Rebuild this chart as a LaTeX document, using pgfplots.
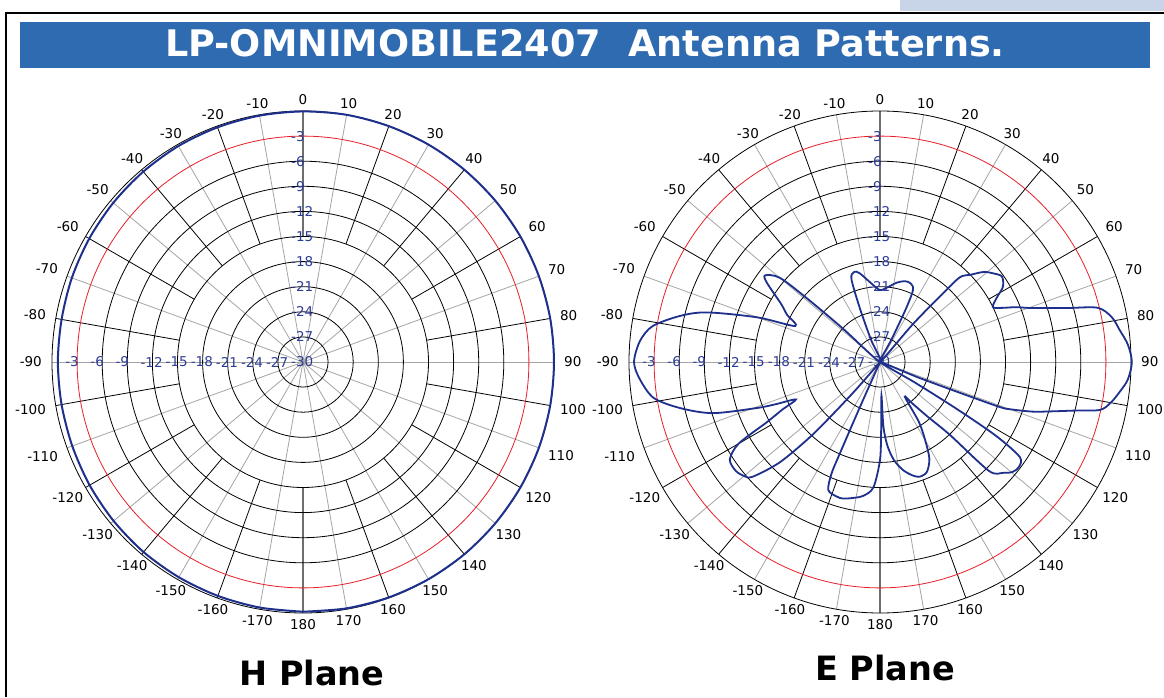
\documentclass[border=0pt]{standalone}
\usepackage{pgfplots}
\pgfplotsset{compat=1.18}
\usepackage{pgfplotstable}
\usepackage{fontspec}
\setmainfont{DejaVu Sans}
\definecolor{navy}{RGB}{30,48,140}
\definecolor{lblue}{RGB}{45,60,150}
\definecolor{titlebar}{RGB}{47,107,177}
\definecolor{spoke}{RGB}{165,165,165}
\definecolor{axisgray}{RGB}{110,110,110}
\definecolor{gridred}{RGB}{232,30,40}
\definecolor{topbox}{RGB}{200,212,232}

\pgfplotstableread{
ang db
-180 -0.15
-170 -0.2
-160 -0.25
-150 -0.3
-140 -0.35
-130 -0.45
-120 -0.55
-110 -0.65
-100 -0.7
-90 -0.7
-80 -0.7
-70 -0.6
-60 -0.5
-50 -0.4
-40 -0.3
-30 -0.2
-20 -0.15
-10 -0.1
0 -0.05
10 0
20 0
30 0
40 0
50 0
60 0
70 0
80 0
90 0
100 0
110 0
120 0
130 0
140 0
150 -0.02
160 -0.05
170 -0.1
180 -0.15
}\hplane

\pgfplotstableread{
ang db
-150 -30
-139 -26
-138 -22
-137 -17.7
-135 -13
-132 -9.5
-130 -8.8
-127 -8.4
-123 -8.6
-120 -10.5
-118 -14.7
-116 -17
-114 -19
-112 -16.5
-110.5 -14.3
-107 -9.1
-103 -5.5
-99 -2.6
-94 -1.2
-90 -0.6
-85 -1.2
-81 -2.5
-77 -5.5
-74 -8.5
-70 -14.4
-67 -19
-63 -17.5
-59.6 -16.3
-55 -13.5
-53 -12.8
-50 -14.3
-49 -18
-48 -24
-35 -30
-22 -27
-20.5 -23
-19 -19.5
-16 -18.8
-13 -19.1
-6 -20.6
0 -21.4
6 -21
12 -20.3
17 -19.9
21 -19.9
24.6 -20.5
26 -23
27 -27
34 -30
41 -24
42.5 -19
43.3 -16.1
46 -15
49 -13.6
52 -12.8
55 -12.2
58.6 -12.8
61 -14
64 -15
66 -14.1
68 -12.5
70 -11.1
72 -9.1
74 -6.6
76 -3.2
79 -1.8
82.4 -1.1
86 -0.3
90 0.1
94 -0.3
97 -1.1
100 -2
102.3 -3.1
104 -6
106 -8.6
108 -10.8
110 -13.5
110.6 -14.7
111 -19
112 -25
116 -30
120.5 -25
121.5 -19
122.5 -13.5
124.2 -9.8
127 -9.2
129.6 -9.4
132 -10.2
135 -11.6
136.2 -17.9
139 -21.4
142 -23.7
144.5 -24.9
147 -21.5
150 -19.2
153 -17
157 -15.7
161 -15.5
164 -15.9
168 -16.8
172 -18.2
175 -20
177 -22.3
177.5 -26
179 -22
180 -18.3
183 -15
187 -13.9
190.5 -13.5
195 -13.1
197.7 -13.1
202 -13.5
203.5 -15.5
203.7 -18
204 -24
210 -30
}\eplane

\newcommand{\polargrid}[2]{%
\begin{scope}[shift={(#1,#2)}]
  \foreach \b in {10,30,...,350} {\draw[spoke, line width=0.8pt] (0,0) -- ({90-\b}:251pt);}
  \foreach \b in {20,40,60,80,100,120,140,160,200,220,240,260,280,300,320,340} {\draw[black, line width=0.8pt] ({90-\b}:125.5pt) -- ({90-\b}:251pt);}
  \draw[axisgray, line width=1.4pt] (90:125.5pt) -- (90:251pt);
  \draw[axisgray, line width=1.4pt] (-90:125.5pt) -- (-90:251pt);
  \foreach \k in {1,...,8} {\draw[black, line width=0.8pt] (0,0) circle[radius=\k*25.1pt];}
  \draw[gridred, line width=0.8pt] (0,0) circle[radius=225.9pt];
  \draw[black, line width=0.8pt] (0,0) circle[radius=251pt];
  \foreach \b in {-170,-160,...,180} {
    \pgfmathsetmacro\ph{90-\b}
    \pgfmathsetmacro\dd{251+5+4*cos(\ph)*cos(\ph)}
    \pgfmathtruncatemacro\anc{mod(270-\b+720,360)}
    \node[font=\fontsize{13.5}{16}\selectfont, inner sep=1pt, anchor=\anc] at (\ph:\dd pt) {\b};
  }
  \foreach \k in {1,...,9} {
    \pgfmathtruncatemacro\v{-30+3*\k}
    \node[lblue, font=\fontsize{13.5}{15}\selectfont, inner sep=0pt, anchor=west] at (-12pt, \k*25.1pt) {\v};
    \node[lblue, font=\fontsize{13.5}{15}\selectfont, inner sep=0pt, anchor=west] at (-\k*25.1pt-12pt, 0pt) {\v};
  }
  \node[lblue, font=\fontsize{13.5}{15}\selectfont, inner sep=0pt, anchor=west] at (-12pt, 0pt) {-30};
\end{scope}}

\begin{document}
\begin{tikzpicture}[x=1pt,y=1pt]
\useasboundingbox (0,0) rectangle (1164,697);
\fill[white] (0,0) rectangle (1164,697);
\fill[topbox] (900,686) rectangle (1164,697);
\draw[black, line width=2pt] (6,0) -- (6,684) -- (1164,684);
\fill[titlebar] (20,629) rectangle (1150,675);
\node[white, font=\bfseries\fontsize{36.6}{40}\selectfont, anchor=base, inner sep=0pt] at (585,640) {LP-OMNIMOBILE2407\hspace{0.4em} Antenna Patterns.};

\polargrid{303}{335}
\polargrid{880}{335}

\node[font=\bfseries\fontsize{33.5}{38}\selectfont, anchor=base, inner sep=0pt] at (312,12) {H Plane};
\node[font=\bfseries\fontsize{33.5}{38}\selectfont, anchor=base, inner sep=0pt] at (885,17) {E Plane};

\begin{axis}[at={(303pt,335pt)}, anchor=center, scale only axis, width=502pt, height=502pt,
  xmin=-30, xmax=30, ymin=-30, ymax=30, hide axis, clip=false]
\addplot[navy, line width=2pt, data cs=polar, smooth, mark=none] table[x expr={90-\thisrow{ang}}, y expr={\thisrow{db}+30}] {\hplane};
\end{axis}
\begin{axis}[at={(880pt,335pt)}, anchor=center, scale only axis, width=502pt, height=502pt,
  xmin=-30, xmax=30, ymin=-30, ymax=30, hide axis, clip=false]
\addplot[navy, line width=1.8pt, data cs=polar, smooth, tension=0.5, mark=none] table[x expr={90-\thisrow{ang}}, y expr={\thisrow{db}+30}] {\eplane};
\end{axis}
\end{tikzpicture}
\end{document}
